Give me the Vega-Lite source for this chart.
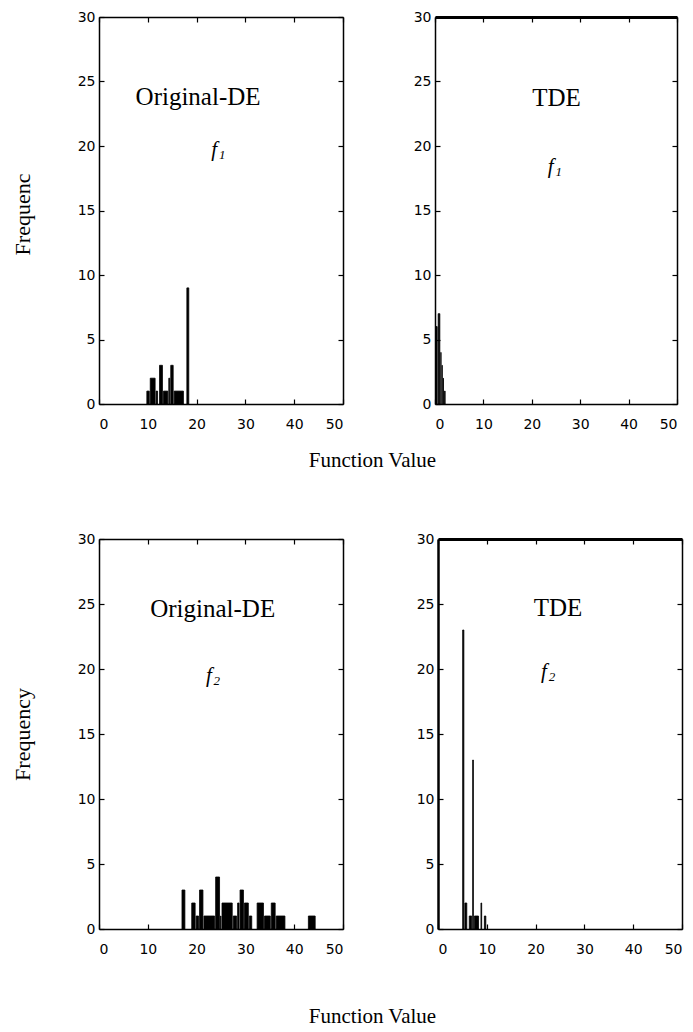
{
  "$schema": "https://vega.github.io/schema/vega-lite/v6.json",
  "padding": {"left": 11, "top": 10, "right": 2, "bottom": 2},
  "background": "white",
  "config": {
    "view": {"stroke": null},
    "bar": {"color": "black", "stroke": "black", "strokeWidth": 0.8},
    "axis": {
      "labelFont": "DejaVu Sans", "labelFontSize": 14, "labelColor": "black",
      "tickColor": "black", "domainColor": "black", "domainWidth": 1.5, "tickWidth": 1.2,
      "tickSize": -5, "grid": false,
      "titleFont": "Liberation Serif", "titleFontSize": 22, "titleFontWeight": "normal", "titleColor": "black"
    },
    "axisX": {"labelPadding": 18},
    "axisY": {"labelPadding": 9}
  },
  "datasets": {
    "tl": [
      {"lo": 9.6, "hi": 10.3, "n": 1}, {"lo": 10.3, "hi": 11.5, "n": 2}, {"lo": 11.5, "hi": 12.0, "n": 1},
      {"lo": 12.2, "hi": 13.0, "n": 3}, {"lo": 13.0, "hi": 14.1, "n": 1}, {"lo": 14.1, "hi": 14.5, "n": 2},
      {"lo": 14.5, "hi": 15.2, "n": 3}, {"lo": 15.2, "hi": 17.3, "n": 1}, {"lo": 17.8, "hi": 18.4, "n": 9}
    ],
    "tr": [
      {"lo": 0.0, "hi": 0.45, "n": 6}, {"lo": 0.45, "hi": 1.0, "n": 7}, {"lo": 1.0, "hi": 1.25, "n": 4},
      {"lo": 1.25, "hi": 1.5, "n": 3}, {"lo": 1.5, "hi": 1.75, "n": 2}, {"lo": 1.75, "hi": 2.1, "n": 1}
    ],
    "bl": [
      {"lo": 16.8, "hi": 17.6, "n": 3}, {"lo": 18.8, "hi": 19.7, "n": 2}, {"lo": 19.7, "hi": 20.4, "n": 1},
      {"lo": 20.4, "hi": 21.3, "n": 3}, {"lo": 21.3, "hi": 23.7, "n": 1}, {"lo": 23.7, "hi": 24.7, "n": 4},
      {"lo": 24.7, "hi": 25.0, "n": 1}, {"lo": 25.0, "hi": 27.3, "n": 2}, {"lo": 27.3, "hi": 28.2, "n": 1},
      {"lo": 28.2, "hi": 28.7, "n": 2}, {"lo": 28.7, "hi": 29.6, "n": 3}, {"lo": 29.6, "hi": 30.6, "n": 2},
      {"lo": 30.6, "hi": 31.3, "n": 1}, {"lo": 32.2, "hi": 33.7, "n": 2}, {"lo": 33.7, "hi": 35.1, "n": 1},
      {"lo": 35.1, "hi": 36.1, "n": 2}, {"lo": 36.1, "hi": 38.1, "n": 1}, {"lo": 42.7, "hi": 44.3, "n": 1}
    ],
    "br": [
      {"lo": 4.85, "hi": 5.3, "n": 23}, {"lo": 5.3, "hi": 5.9, "n": 2}, {"lo": 6.2, "hi": 6.9, "n": 1},
      {"lo": 6.9, "hi": 7.25, "n": 13}, {"lo": 7.25, "hi": 8.3, "n": 1}, {"lo": 8.6, "hi": 8.95, "n": 2},
      {"lo": 9.3, "hi": 9.8, "n": 1}
    ],
    "notes": [
      {"panel": "tl", "method": "Original-DE", "mx": 20.3, "my": 23.8, "f": "f", "sub": "1", "fx": 23.6, "fy": 19.7},
      {"panel": "tr", "method": "TDE", "mx": 25.1, "my": 23.7, "f": "f", "sub": "1", "fx": 23.9, "fy": 18.4},
      {"panel": "bl", "method": "Original-DE", "mx": 23.3, "my": 24.6, "f": "f", "sub": "2", "fx": 22.5, "fy": 19.5},
      {"panel": "br", "method": "TDE", "mx": 24.6, "my": 24.7, "f": "f", "sub": "2", "fx": 21.7, "fy": 19.8}
    ]
  },
  "spacing": 62,
  "vconcat": [
    {
      "bounds": "flush",
      "spacing": 92,
      "hconcat": [
        {
          "width": 244, "height": 387,
          "layer": [
            {
              "data": {"name": "tl"},
              "mark": {"type": "bar"},
              "encoding": {
                "x": {"field": "lo", "type": "quantitative", "bin": "binned", "scale": {"domain": [0, 50]},
                      "axis": {"orient": "bottom", "values": [0, 10, 20, 30, 40, 50], "title": "Function  Value", "titleX": 273, "titleY": 56, "titleBaseline": "middle", "titleFontSize": 21}},
                "x2": {"field": "hi"},
                "y": {"field": "n", "type": "quantitative", "scale": {"domain": [0, 30]},
                      "axis": {"orient": "left", "values": [0, 5, 10, 15, 20, 25, 30], "title": "Frequenc", "titleX": -77, "titleY": 197, "titleAngle": -90, "titleBaseline": "middle"}}
              }
            },
            {
              "data": {"name": "notes"}, "transform": [{"filter": "datum.panel == 'tl'"}],
              "mark": {"type": "text", "font": "Liberation Serif", "fontSize": 25, "color": "black"},
              "encoding": {
                "x": {"field": "mx", "type": "quantitative", "axis": {"orient": "top", "labels": false, "title": null, "values": [0, 10, 20, 30, 40, 50]}},
                "y": {"field": "my", "type": "quantitative", "axis": {"orient": "right", "labels": false, "title": null, "values": [0, 5, 10, 15, 20, 25, 30]}},
                "text": {"field": "method"}
              }
            },
            {
              "data": {"name": "notes"}, "transform": [{"filter": "datum.panel == 'tl'"}],
              "mark": {"type": "text", "font": "Liberation Serif", "fontSize": 21, "fontStyle": "italic", "color": "black"},
              "encoding": {
                "x": {"field": "fx", "type": "quantitative", "axis": null},
                "y": {"field": "fy", "type": "quantitative", "axis": null},
                "text": {"field": "f"}
              }
            },
            {
              "data": {"name": "notes"}, "transform": [{"filter": "datum.panel == 'tl'"}],
              "mark": {"type": "text", "font": "Liberation Serif", "fontSize": 13, "fontStyle": "italic", "color": "black", "dx": 8, "dy": 5},
              "encoding": {
                "x": {"field": "fx", "type": "quantitative", "axis": null},
                "y": {"field": "fy", "type": "quantitative", "axis": null},
                "text": {"field": "sub"}
              }
            }
          ],
          "resolve": {"axis": {"x": "independent", "y": "independent"}}
        },
        {
          "width": 242, "height": 387,
          "layer": [
            {
              "data": {"name": "tr"},
              "mark": {"type": "bar"},
              "encoding": {
                "x": {"field": "lo", "type": "quantitative", "bin": "binned", "scale": {"domain": [0, 50]},
                      "axis": {"orient": "bottom", "values": [0, 10, 20, 30, 40, 50], "title": null}},
                "x2": {"field": "hi"},
                "y": {"field": "n", "type": "quantitative", "scale": {"domain": [0, 30]},
                      "axis": {"orient": "left", "values": [0, 5, 10, 15, 20, 25, 30], "title": null}}
              }
            },
            {
              "data": {"name": "notes"}, "transform": [{"filter": "datum.panel == 'tr'"}],
              "mark": {"type": "text", "font": "Liberation Serif", "fontSize": 25, "color": "black"},
              "encoding": {
                "x": {"field": "mx", "type": "quantitative", "axis": {"orient": "top", "labels": false, "title": null, "domainWidth": 3, "values": [0, 10, 20, 30, 40, 50]}},
                "y": {"field": "my", "type": "quantitative", "axis": {"orient": "right", "labels": false, "title": null, "values": [0, 5, 10, 15, 20, 25, 30]}},
                "text": {"field": "method"}
              }
            },
            {
              "data": {"name": "notes"}, "transform": [{"filter": "datum.panel == 'tr'"}],
              "mark": {"type": "text", "font": "Liberation Serif", "fontSize": 21, "fontStyle": "italic", "color": "black"},
              "encoding": {
                "x": {"field": "fx", "type": "quantitative", "axis": null},
                "y": {"field": "fy", "type": "quantitative", "axis": null},
                "text": {"field": "f"}
              }
            },
            {
              "data": {"name": "notes"}, "transform": [{"filter": "datum.panel == 'tr'"}],
              "mark": {"type": "text", "font": "Liberation Serif", "fontSize": 13, "fontStyle": "italic", "color": "black", "dx": 8, "dy": 5},
              "encoding": {
                "x": {"field": "fx", "type": "quantitative", "axis": null},
                "y": {"field": "fy", "type": "quantitative", "axis": null},
                "text": {"field": "sub"}
              }
            }
          ],
          "resolve": {"axis": {"x": "independent", "y": "independent"}}
        }
      ]
    },
    {
      "bounds": "flush",
      "spacing": 95,
      "hconcat": [
        {
          "width": 244, "height": 390,
          "layer": [
            {
              "data": {"name": "bl"},
              "mark": {"type": "bar"},
              "encoding": {
                "x": {"field": "lo", "type": "quantitative", "bin": "binned", "scale": {"domain": [0, 50]},
                      "axis": {"orient": "bottom", "values": [0, 10, 20, 30, 40, 50], "title": "Function  Value", "titleX": 273, "titleY": 87, "titleBaseline": "middle", "titleFontSize": 21}},
                "x2": {"field": "hi"},
                "y": {"field": "n", "type": "quantitative", "scale": {"domain": [0, 30]},
                      "axis": {"orient": "left", "values": [0, 5, 10, 15, 20, 25, 30], "title": "Frequency", "titleX": -77, "titleY": 195, "titleAngle": -90, "titleBaseline": "middle"}}
              }
            },
            {
              "data": {"name": "notes"}, "transform": [{"filter": "datum.panel == 'bl'"}],
              "mark": {"type": "text", "font": "Liberation Serif", "fontSize": 25, "color": "black"},
              "encoding": {
                "x": {"field": "mx", "type": "quantitative", "axis": {"orient": "top", "labels": false, "title": null, "values": [0, 10, 20, 30, 40, 50]}},
                "y": {"field": "my", "type": "quantitative", "axis": {"orient": "right", "labels": false, "title": null, "values": [0, 5, 10, 15, 20, 25, 30]}},
                "text": {"field": "method"}
              }
            },
            {
              "data": {"name": "notes"}, "transform": [{"filter": "datum.panel == 'bl'"}],
              "mark": {"type": "text", "font": "Liberation Serif", "fontSize": 21, "fontStyle": "italic", "color": "black"},
              "encoding": {
                "x": {"field": "fx", "type": "quantitative", "axis": null},
                "y": {"field": "fy", "type": "quantitative", "axis": null},
                "text": {"field": "f"}
              }
            },
            {
              "data": {"name": "notes"}, "transform": [{"filter": "datum.panel == 'bl'"}],
              "mark": {"type": "text", "font": "Liberation Serif", "fontSize": 13, "fontStyle": "italic", "color": "black", "dx": 8, "dy": 5},
              "encoding": {
                "x": {"field": "fx", "type": "quantitative", "axis": null},
                "y": {"field": "fy", "type": "quantitative", "axis": null},
                "text": {"field": "sub"}
              }
            }
          ],
          "resolve": {"axis": {"x": "independent", "y": "independent"}}
        },
        {
          "width": 244, "height": 390,
          "layer": [
            {
              "data": {"name": "br"},
              "mark": {"type": "bar"},
              "encoding": {
                "x": {"field": "lo", "type": "quantitative", "bin": "binned", "scale": {"domain": [0, 50]},
                      "axis": {"orient": "bottom", "values": [0, 10, 20, 30, 40, 50], "title": null}},
                "x2": {"field": "hi"},
                "y": {"field": "n", "type": "quantitative", "scale": {"domain": [0, 30]},
                      "axis": {"orient": "left", "values": [0, 5, 10, 15, 20, 25, 30], "title": null, "domainWidth": 2.5}}
              }
            },
            {
              "data": {"name": "notes"}, "transform": [{"filter": "datum.panel == 'br'"}],
              "mark": {"type": "text", "font": "Liberation Serif", "fontSize": 25, "color": "black"},
              "encoding": {
                "x": {"field": "mx", "type": "quantitative", "axis": {"orient": "top", "labels": false, "title": null, "domainWidth": 3, "values": [0, 10, 20, 30, 40, 50]}},
                "y": {"field": "my", "type": "quantitative", "axis": {"orient": "right", "labels": false, "title": null, "values": [0, 5, 10, 15, 20, 25, 30]}},
                "text": {"field": "method"}
              }
            },
            {
              "data": {"name": "notes"}, "transform": [{"filter": "datum.panel == 'br'"}],
              "mark": {"type": "text", "font": "Liberation Serif", "fontSize": 21, "fontStyle": "italic", "color": "black"},
              "encoding": {
                "x": {"field": "fx", "type": "quantitative", "axis": null},
                "y": {"field": "fy", "type": "quantitative", "axis": null},
                "text": {"field": "f"}
              }
            },
            {
              "data": {"name": "notes"}, "transform": [{"filter": "datum.panel == 'br'"}],
              "mark": {"type": "text", "font": "Liberation Serif", "fontSize": 13, "fontStyle": "italic", "color": "black", "dx": 8, "dy": 5},
              "encoding": {
                "x": {"field": "fx", "type": "quantitative", "axis": null},
                "y": {"field": "fy", "type": "quantitative", "axis": null},
                "text": {"field": "sub"}
              }
            }
          ],
          "resolve": {"axis": {"x": "independent", "y": "independent"}}
        }
      ]
    }
  ]
}
